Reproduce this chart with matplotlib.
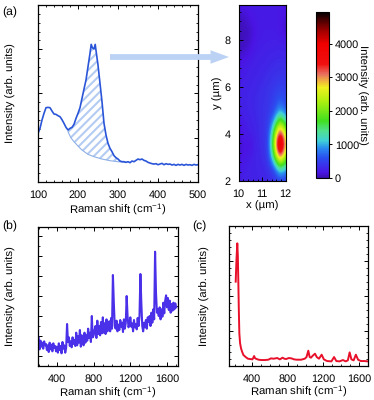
import numpy as np
import matplotlib
matplotlib.use('Agg')
import matplotlib.pyplot as plt
from matplotlib.colors import LinearSegmentedColormap
from matplotlib.patches import FancyArrow
from matplotlib.ticker import MultipleLocator, NullFormatter

plt.rcParams['font.family'] = ['Liberation Sans', 'DejaVu Sans']
plt.rcParams['mathtext.default'] = 'regular'
plt.rcParams['hatch.linewidth'] = 1.5
plt.rcParams['font.size'] = 8.2
plt.rcParams['text.hinting'] = 'no_hinting'

#panel (a) spectrum
a_shift = [100,105,110,115,120,125,130,135,140,145,150,155,160,165,170,175,180,185,190,195,
           200,205,210,215,220,225,230,233,236,240,243,246,250,255,260,265,270,275,280,285,
           290,295,300,305,310,315,320,325,330,335,340,345,350,355,360,365,370,375,380,385,
           390,395,400,405,410,415,420,425,430,435,440,445,450,455,460,465,470,475,480,485,490,495,500]
a_int = [145,160,185,205,222,223,222,212,203,202,198,195,186,175,163,155,160,163,172,190,
         205,222,250,278,305,345,385,412,402,398,412,385,350,295,240,175,140,115,100,90,
         78,72,68,62,60,60,58,60,57,62,60,64,68,66,68,64,62,58,56,54,
         53,54,51,53,55,51,54,52,53,50,52,49,52,50,52,49,52,50,51,49,52,50,51]
base_shift = [175,182,190,200,210,225,240,260,280,300,320]
base_int = [150,132,120,107,95,82,75,68,63,60,58]

#heat map, rows from y=2 upward
map_x = [10,10.25,10.5,10.75,11,11.25,11.5,11.75,12]
map_y = [2,2.5,3,3.5,4,4.5,5,5.5,6,6.5,7,7.5,8,8.5,9,9.5]
map_int = [
 [230,240,250,260,280,300,360,480,400],
 [200,230,250,270,290,340,500,1300,900],
 [120,180,220,280,320,420,1500,3300,1900],
 [90,170,120,280,340,450,2200,4900,2600],
 [120,200,220,290,350,450,1900,4000,2200],
 [160,220,260,300,360,430,1000,2300,1300],
 [240,260,280,320,360,410,520,1000,600],
 [250,260,290,320,360,400,480,650,520],
 [230,250,270,300,330,380,430,480,450],
 [210,230,250,270,300,340,370,400,390],
 [170,210,230,250,270,290,320,340,330],
 [60,90,180,230,240,260,270,280,270],
 [40,50,100,200,220,230,230,230,200],
 [40,50,90,190,210,210,210,190,60],
 [60,80,180,200,200,200,200,180,140],
 [180,190,200,200,200,200,200,190,170]]

#colorbar
cbar_ticks = [0,1000,2000,3000,4000]
cm_levels = [0,150,600,900,1100,1400,1700,2300,2700,2900,3100,3400,4000,4400,4800,4950]
cm_colors = ['#3a10b0','#4a14e4','#2a50f0','#2a90f0','#40d0d8','#50e090','#40e020','#b0f010',
             '#f0f020','#f0b040','#e87060','#f01010','#f00000','#a00000','#300000','#000000']

#panel (b) spectrum, 10 cm-1 steps
b_shift = np.arange(200,1710,10)
b_int = [85,50,76,58,70,52,74,62,66,48,
         62,42,70,50,64,44,68,54,60,44,
         58,40,68,48,60,38,72,52,62,40,
         54,126,72,86,60,74,56,86,66,78,
         60,100,62,90,70,108,58,92,76,62,
         100,70,92,76,112,84,100,72,150,86,
         92,108,120,84,136,96,120,92,132,98,
         146,100,128,96,140,104,122,134,104,144,
         112,273,190,120,112,136,104,124,108,138,
         118,130,102,140,112,128,210,150,116,124,
         146,118,128,104,138,116,126,110,144,120,
         150,276,190,120,104,130,116,138,112,146,
         132,150,120,160,130,170,140,343,220,160,
         170,150,176,140,170,148,190,158,196,212,
         176,204,168,196,160,186,166,190,170,188,
         176]

#panel (c) spectrum
c_shift = [213,222,231,237,243,248,254,262,273,285,300,325,350,375,400,410,420,430,440,470,500,540,
           580,610,640,680,710,740,760,780,810,840,870,900,950,990,1010,1030,1045,1060,1080,1105,1125,
           1150,1180,1205,1240,1290,1320,1345,1380,1420,1450,1475,1495,1515,1540,1565,1590,1620,1660,1700]
c_int = [252,320,367,330,247,170,97,68,52,42,32,26,21,20,19,23,29,23,21,18,17,17,
         18,22,21,23,19,24,21,20,23,22,19,18,18,21,26,45,26,24,30,36,26,
         21,33,19,14,13,26,14,13,17,13,16,40,19,16,33,18,14,14,13]


def make_axes(left, right, top, bottom):
    #axes box given in image pixels
    return fig.add_axes([left/374, 1-bottom/400, (right-left)/374, (bottom-top)/400])


def style(ax, xmajor, xminor, ymajor, yminor):
    ax.xaxis.set_major_locator(MultipleLocator(xmajor))
    ax.xaxis.set_minor_locator(MultipleLocator(xminor))
    ax.yaxis.set_major_locator(MultipleLocator(ymajor))
    ax.yaxis.set_minor_locator(MultipleLocator(yminor))
    ax.tick_params(which='major', direction='in', length=3, width=0.7, top=True, right=True, pad=6, labelsize=7.8)
    ax.tick_params(which='minor', direction='in', length=1.5, width=0.6, top=True, right=True)
    ax.yaxis.set_major_formatter(NullFormatter())
    for s in ax.spines.values():
        s.set_linewidth(0.9)


fig = plt.figure(figsize=(3.74,4.0), dpi=100)

#panel a
ax1 = make_axes(38,198,4.7,181.7)
seg = [i for i,v in enumerate(a_shift) if 175 <= v <= 320]
xs = [a_shift[i] for i in seg]
ys = [a_int[i] for i in seg]
ax1.fill(xs + base_shift[::-1], ys + base_int[::-1], facecolor='white', edgecolor='#b4ccf2', hatch='////', linewidth=0)
ax1.plot(base_shift, base_int, color='#8fb0e6', lw=0.8)
ax1.plot(a_shift, a_int, color='#2a55d8', lw=1.2)
ax1.set_xlim(100,500)
ax1.set_ylim(0,531)
style(ax1,100,20,132.5,26.5)
ax1.set_xlabel('Raman shift (cm$^{-1}$)', labelpad=1)
ax1.set_ylabel('Intensity (arb. units)', labelpad=10)

#panel heat map
cmap = LinearSegmentedColormap.from_list('raman', [(v/4950,c) for v,c in zip(cm_levels,cm_colors)], N=256)
ax2 = make_axes(238.7,285.7,5,181)
im = ax2.imshow(np.array(map_int), origin='lower', aspect='auto', cmap=cmap, vmin=0, vmax=4950,
                interpolation='bicubic', extent=[9.875,12.125,1.75,9.75])
ax2.set_xlim(10,12)
ax2.set_ylim(2,9.5)
ax2.xaxis.set_major_locator(MultipleLocator(1))
ax2.xaxis.set_minor_locator(MultipleLocator(0.2))
ax2.yaxis.set_major_locator(MultipleLocator(2))
ax2.yaxis.set_minor_locator(MultipleLocator(0.4))
ax2.tick_params(which='major', direction='in', length=3, width=0.7, pad=6, labelsize=7.8)
ax2.tick_params(which='minor', direction='in', length=1.5, width=0.6)
ax2.set_xlabel('x (µm)', labelpad=1)
ax2.set_ylabel('y (µm)', labelpad=1)

cax = make_axes(315.7,329.3,12,178)
cb = fig.colorbar(im, cax=cax)
cb.set_ticks(cbar_ticks)
cb.ax.tick_params(length=2, width=0.7, pad=2, labelsize=7.8)
cb.outline.set_linewidth(0.8)
cb.set_label('Intensity (arb. units)', rotation=270, labelpad=6, fontsize=8.2)

#panel b
ax3 = make_axes(38,178,226.7,366)
ax3.plot(b_shift, b_int, color='#4a30e8', lw=1.5)
ax3.set_xlim(193,1720)
ax3.set_ylim(0,418)
style(ax3,400,100,60,30)
ax3.yaxis.set_major_locator(plt.FixedLocator([30,90,150,210,270,330,390]))
ax3.set_xlabel('Raman shift (cm$^{-1}$)', labelpad=0)
ax3.set_ylabel('Intensity (arb. units)', labelpad=10)

#panel c
ax4 = make_axes(229.3,368.3,226,365.7)
ax4.plot(c_shift, c_int, color='#e8102a', lw=1.4)
ax4.set_xlim(141,1705)
ax4.set_ylim(0,419)
style(ax4,400,100,105,21)
ax4.set_xlabel('Raman shift (cm$^{-1}$)', labelpad=0)
ax4.set_ylabel('Intensity (arb. units)', labelpad=8)

#panel letters and arrow
fig.text(2/374, 1-12/400, '(a)', va='center', fontsize=8.8)
fig.text(2/374, 1-226/400, '(b)', va='center', fontsize=8.8)
fig.text(192/374, 1-226/400, '(c)', va='center', fontsize=8.8)
arrow = FancyArrow(1.10, (400-57)/100, 1.19, 0, width=0.058, head_width=0.135, head_length=0.185,
                   length_includes_head=True, color='#bcd2f4', lw=0, transform=fig.dpi_scale_trans, zorder=10)
fig.add_artist(arrow)

plt.savefig('out.png', dpi=100)
